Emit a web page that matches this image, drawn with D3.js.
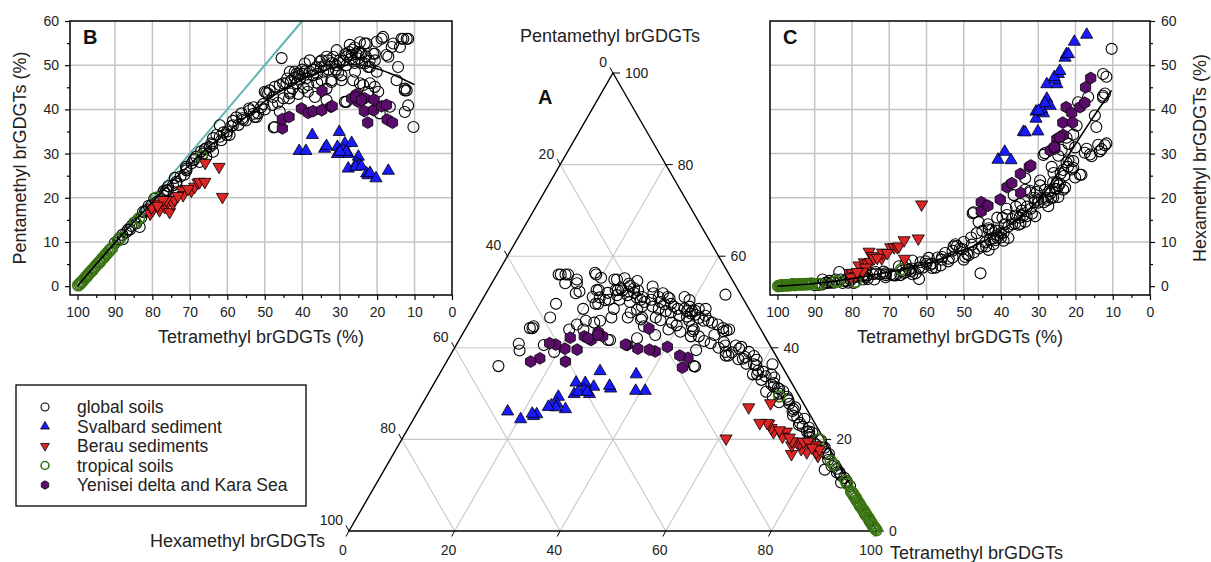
<!DOCTYPE html>
<html>
<head>
<meta charset="utf-8">
<script src="https://cdn.jsdelivr.net/npm/d3@7"></script>
<style>
body { margin: 0; background: #fff; }
svg { font-family: "Liberation Sans", Arial, sans-serif; }
</style>
</head>
<body>
<svg width="1211" height="562"></svg>
<script>
// values are [tetramethyl %, pentamethyl %]; hexamethyl = 100 - tetra - penta

var globalSoils = [
  [99,0.8],[97.5,2.2],[96,3.6],[94,5.5],[92.3,7.2],[90,9.8],[88.8,10.9],[87.9,10.6],[87,12.2],[86,12.8],
  [85.6,13.6],[84.8,14.4],[84.3,14.2],[83.4,13.4],[83,15.5],[82,16.8],[81.6,17.2],[80.3,18.3],[79,18.9],[78.1,19.5],
  [77,20.5],[76.7,21],[76.3,21.7],[75.9,21.7],[75.8,22.6],[74.5,22.8],[73.6,23.2],[73.6,23.6],[72.5,24.8],[71.5,25.2],
  [70.9,26.2],[70.9,26.6],[69.5,27.8],[68.7,28.8],[68.3,29.3],[67.4,28.1],[66.5,30],[65.6,29.3],[65.6,31.2],[64.7,31.5],
  [64.3,32.3],[63.8,30.4],[63.8,33.5],[62.9,34.2],[62,36.4],[61.6,33],[60.2,34.2],[59.4,34.2],[59,36.2],[58.5,36.4],
  [58.5,37.4],[57.6,38.2],[56.2,39.1],[55.8,37.6],[54.2,40.2],[54,39.8],[53,40.5],[52.7,38.3],[52.2,38.3],[51.8,39.1],
  [50.4,41.2],[50,44],[49.6,43.8],[49.1,43.6],[48.7,44.3],[47.8,42.8],[47.6,35.9],[47.3,45.1],[47.3,36],[46,45.5],
  [46,39.5],[45.5,51.6],[45.1,45.9],[44.2,45.9],[43.3,43.6],[43.3,48.5],[43.3,44],[42.6,44.7],[42,48.5],[41.5,45.9],
  [41.5,48.1],[40.6,46.8],[40,49],[41,48],[39.6,44.9],[39.3,48.6],[39.3,50.4],[38.4,45.5],[38,51.1],[37.1,47.7],
  [36.6,42.8],[36.2,49.6],[35.3,50.8],[34.8,46.6],[34.8,51.1],[34.4,48.5],[33.5,44.7],[33.5,51.9],[33.5,42.1],[33.1,51.1],
  [32.2,46.6],[32.2,46.2],[31.7,51.9],[30.8,53.4],[30.4,48.3],[30,51.1],[29.5,47.7],[29.5,46.6],[28.6,41.7],[28.2,50],
  [28.2,41.7],[27.3,54.6],[26.8,52.3],[26.4,46.6],[25.9,48.5],[25,53],[24.6,55.2],[24.6,52.6],[24.6,45.9],[24.2,52.6],
  [23.7,45.5],[23.3,50.4],[23.3,54.9],[22.8,54.9],[22.4,49.6],[22.4,44],[21.9,45.9],[21.9,49.6],[21,52.6],[20.6,51.1],
  [20.6,52.6],[20.6,45.1],[20.1,48.5],[20.1,55.3],[19.7,44],[19.3,39.1],[18.8,56],[18.4,56.4],[17.5,52.3],[17,51.9],
  [16.6,40.6],[16.1,54.1],[15.7,54.9],[14.8,46.6],[14.4,49.6],[13.9,54.1],[13.5,56],[13,56],[12.6,44.7],[12.6,44.3],
  [12.6,39.4],[12.1,56],[12.1,44.3],[11.7,40.9],[11.7,56],[10.3,36],
  [44,47],[43,46.5],[42,47.2],[41,47.5],[40,48],[39,47],[38,48.5],[37,49],[36,48],[35,49.5],
  [34,50],[33,49],[32,50.5],[31,50],[30,50.5],[29,51],[28,52],[27,51.5],[26,50.5],[25,51.5],
  [24,50.5],[23,52],[22,51],[27.5,53],[26.5,53.5],[25.5,52.5],[26,54],[28.5,52.5],[31,49],[36,46],
  [38.5,44],[41,43.5],[43.5,42.5],[45,42.5],[46.5,41.5],[48,41],[50,40],[51,40.5],[53,39],[55,37.5],
  [56,38],[57,36.5],[60,35],[61,34.8],[62,33.8],[64,32],[66,31],[67,30.5],[69,28.5],[71,27],
  [74,24.5],[77,21.5],[79.5,19.8],[81,18.2],[82.5,16.8],[86.5,12.8],[88,11.6],[89,10.6]
];

var svalbard = [
  [40.8,30.6],[39,30.6],[37.3,34.2],[34,31.1],[33.5,31.7],[30.1,34.9],[30.6,31.5],[28.6,32.3],[30.6,29.9],[29.1,30.8],
  [27.7,29.9],[26.8,32.4],[27.7,26.6],[25,29.3],[25.5,27.8],[24.6,27.4],[25.7,27],[24.2,27.1],[22.8,25.5],[22.4,25.1],
  [21.9,25.6],[20.3,24.4],[17,26.1],[28.2,30.4],[29.9,30.4]
];

var berau = [
  [80.6,16.4],[79.9,17.2],[79,18.7],[78.1,17.2],[76.7,17.9],[75.8,19.1],[75.4,16.8],[75,19.5],[74.5,18.7],[74.1,19.6],
  [76.3,19.5],[77.2,19.5],[72,21.7],[71.8,20.6],[69.6,21.6],[68.7,22.5],[67.8,23.4],[67.4,23.6],[66,23.6],[65.9,27.9],
  [62.2,27],[61.3,20.2],[80.2,17.8],[78.6,18.2],[73.2,20.4],[70.5,22]
];

var tropical = [
  [99.8,0.2],[99.4,0.5],[99,0.9],[98.6,1.2],[98.2,1.6],[97.8,2],[97.3,2.5],[96.9,2.9],[96.4,3.3],[96,3.7],
  [95.5,4.2],[95.1,4.6],[94.6,5],[94.2,5.4],[93.7,5.9],[93.3,6.3],[92.8,6.7],[92.4,7.2],[91.9,7.6],[91.5,8],
  [91.2,8.3],[90.8,8.6],[89.2,10.3],[88.6,10.9],[84.5,14.5],[83.6,15.3],[79,20],[66.8,29.4]
];

var yenisei = [
  [45.3,35.7],[45.3,37.8],[43.5,38.3],[40.2,40.2],[38.4,39.2],[37.1,39.6],[34.8,39.8],[34.7,44.2],[32.4,40.6],[32,40.7],
  [26.8,42.5],[25.5,43.4],[25,41.7],[23.3,42.5],[23.4,39.6],[22.5,37],[21,39.8],[20.8,42.2],[18.8,40.7],[17.5,41],
  [17.3,37.7],[15.9,37],[25.7,42.8],[24.2,42.1]
];

var seriesNames = ['global soils', 'Svalbard sediment', 'Berau sediments', 'tropical soils', 'Yenisei delta and Kara Sea'];

var fitBTetra = [100,95,90,85,80,75,70,65,60,55,50,45,40,35,30,27,24,20,15,12,10];
var fitBPenta = [0,5,9.8,14.5,19,23.5,27.5,31.5,34.8,38.3,41.8,44.5,46.8,48.6,49.8,50.1,50,49.2,47.6,46.4,45.6];
var fitCTetra = [100,90,80,70,60,50,45,40,35,30,26,21,16,13,10.3];
var fitCHexa = [0,0.6,1.7,3.2,5.1,8.2,10,12.7,15.6,19.5,24,30.8,37.3,41,44.3];

// 1:1 line tetra + penta = 100
var tealTetra = [100,40];
var tealPenta = [0,60];

var cartTicks = [100,90,80,70,60,50,40,30,20,10,0];
var cartMinor = [95,85,75,65,55,45,35,25,15,5];
var yTicks = [0,10,20,30,40,50,60];
var yMinor = [5,15,25,35,45,55];
var ternTicks = [0,20,40,60,80,100];

var series = [
  {name: seriesNames[0], data: globalSoils, shape: 'circle', fill: 'none', stroke: '#000', sw: 1.1},
  {name: seriesNames[1], data: svalbard, shape: 'up', fill: '#1a1aff', stroke: '#000', sw: 0.8},
  {name: seriesNames[2], data: berau, shape: 'down', fill: '#dc2626', stroke: '#000', sw: 0.8},
  {name: seriesNames[3], data: tropical, shape: 'circle', fill: 'none', stroke: '#3a7512', sw: 1.6},
  {name: seriesNames[4], data: yenisei, shape: 'hex', fill: '#5a0c6a', stroke: '#000', sw: 0.8}
];
var drawOrder = [0, 3, 2, 1, 4];

var svg = d3.select('svg');
var hexa = d => 100 - d[0] - d[1];

var hexPath = r => {
  var pts = d3.range(6).map(k => {
    var a = (k * 60 - 90) * Math.PI / 180;
    return [r * Math.cos(a), r * Math.sin(a)];
  });
  return d3.line()(pts) + 'Z';
};

var addMark = (g, s, x, y, k) => {
  if (s.shape == 'circle') {
    g.append('circle').attr('cx', x).attr('cy', y).attr('r', 5.5 * k)
      .attr('fill', s.fill).attr('stroke', s.stroke).attr('stroke-width', s.sw);
  } else if (s.shape == 'hex') {
    g.append('path').attr('d', hexPath(5.9 * k)).attr('transform', 'translate(' + x + ',' + y + ')')
      .attr('fill', s.fill).attr('stroke', s.stroke).attr('stroke-width', s.sw);
  } else {
    var rot = s.shape == 'down' ? ' rotate(180)' : '';
    g.append('path').attr('d', d3.symbol(d3.symbolTriangle, 64 * k * k)())
      .attr('transform', 'translate(' + x + ',' + y + ')' + rot)
      .attr('fill', s.fill).attr('stroke', s.stroke).attr('stroke-width', s.sw);
  }
};

var styleAxis = g => {
  g.attr('font-size', 14).attr('font-family', null);
  g.select('.domain').remove();
  g.selectAll('line').attr('stroke', '#000').attr('stroke-width', 1.2);
  g.selectAll('text').attr('fill', '#222');
};

// ---------- panels B and C ----------
var cartPanel = (opt) => {
  var x = d3.scaleLinear().domain([102, 0]).range([opt.left, opt.right]);
  var y = d3.scaleLinear().domain([-2, 60]).range([295, 21]);
  var g = svg.append('g');

  g.append('g').selectAll('line').data(cartTicks.slice(1, 10)).enter().append('line')
    .attr('x1', d => x(d)).attr('x2', d => x(d)).attr('y1', y(60)).attr('y2', y(-2))
    .attr('stroke', '#c4c4c4').attr('stroke-width', 1.5);
  g.append('g').selectAll('line').data([10, 20, 30, 40, 50]).enter().append('line')
    .attr('x1', x(102)).attr('x2', x(0)).attr('y1', d => y(d)).attr('y2', d => y(d))
    .attr('stroke', '#c4c4c4').attr('stroke-width', 1.5);

  if (opt.teal) {
    g.append('path').datum(d3.zip(tealTetra, tealPenta))
      .attr('d', d3.line().x(d => x(d[0])).y(d => y(d[1])))
      .attr('fill', 'none').attr('stroke', '#62b5b3').attr('stroke-width', 2);
  }

  var pts = g.append('g');
  drawOrder.forEach(i => {
    var s = series[i];
    s.data.forEach(d => addMark(pts, s, x(d[0]), y(opt.val(d)), 1));
  });

  g.append('path').datum(d3.zip(opt.fitX, opt.fitY))
    .attr('d', d3.line().x(d => x(d[0])).y(d => y(d[1])).curve(d3.curveCatmullRom))
    .attr('fill', 'none').attr('stroke', '#000').attr('stroke-width', 1.6);

  g.append('rect').attr('x', opt.left).attr('y', 21)
    .attr('width', opt.right - opt.left).attr('height', 274)
    .attr('fill', 'none').attr('stroke', '#000').attr('stroke-width', 1.5);

  var xa = g.append('g').attr('transform', 'translate(0,295)')
    .call(d3.axisBottom(x).tickValues(cartTicks).tickSize(5).tickPadding(7).tickFormat(d3.format('d')));
  styleAxis(xa);
  var xm = g.append('g').attr('transform', 'translate(0,295)')
    .call(d3.axisBottom(x).tickValues(cartMinor).tickSize(3).tickFormat(''));
  styleAxis(xm);

  var yAxis = opt.side == 'left' ? d3.axisLeft(y) : d3.axisRight(y);
  var ax = opt.side == 'left' ? opt.left : opt.right;
  var ya = g.append('g').attr('transform', 'translate(' + ax + ',0)')
    .call(yAxis.tickValues(yTicks).tickSize(5).tickPadding(6).tickFormat(d3.format('d')));
  styleAxis(ya);
  var yAxisM = opt.side == 'left' ? d3.axisLeft(y) : d3.axisRight(y);
  var ym = g.append('g').attr('transform', 'translate(' + ax + ',0)')
    .call(yAxisM.tickValues(yMinor).tickSize(3).tickFormat(''));
  styleAxis(ym);

  g.append('text').attr('x', (opt.left + opt.right) / 2).attr('y', 343)
    .attr('text-anchor', 'middle').attr('font-size', 18).attr('fill', '#222')
    .text('Tetramethyl brGDGTs (%)');
  g.append('text').attr('transform', 'translate(' + opt.ytx + ',158) rotate(-90)')
    .attr('text-anchor', 'middle').attr('font-size', 18).attr('fill', '#222')
    .text(opt.ytitle);
  g.append('text').attr('x', opt.left + 13).attr('y', 44)
    .attr('font-size', 20).attr('font-weight', 'bold').attr('fill', '#111')
    .text(opt.letter);
};

cartPanel({left: 70, right: 452, side: 'left', teal: true, val: d => d[1],
  fitX: fitBTetra, fitY: fitBPenta, ytx: 26, ytitle: 'Pentamethyl brGDGTs (%)', letter: 'B'});
cartPanel({left: 770, right: 1150, side: 'right', teal: false, val: hexa,
  fitX: fitCTetra, fitY: fitCHexa, ytx: 1206, ytitle: 'Hexamethyl brGDGTs (%)', letter: 'C'});

// ---------- panel A: ternary ----------
var xT = d3.scaleLinear().domain([0, 100]).range([349, 877]);
var yT = d3.scaleLinear().domain([0, 100]).range([531, 73]);
var pos = (t, p) => [xT(t + p / 2), yT(p)];

var tg = svg.append('g');
var grid = tg.append('g').attr('stroke', '#c8c8c8').attr('stroke-width', 1.1);
[20, 40, 60, 80].forEach(v => {
  [[pos(0, v), pos(100 - v, v)], [pos(v, 0), pos(v, 100 - v)], [pos(0, 100 - v), pos(100 - v, 0)]]
    .forEach(seg => grid.append('line')
      .attr('x1', seg[0][0]).attr('y1', seg[0][1]).attr('x2', seg[1][0]).attr('y2', seg[1][1]));
});

tg.append('path').datum([pos(0, 100), pos(100, 0), pos(0, 0)])
  .attr('d', d => d3.line()(d) + 'Z')
  .attr('fill', 'none').attr('stroke', '#000').attr('stroke-width', 1.4);

var tl = tg.append('g').attr('font-size', 14).attr('fill', '#222');
ternTicks.forEach(v => {
  // pentamethyl on right edge
  var a = pos(100 - v, v);
  tl.append('line').attr('x1', a[0]).attr('y1', a[1]).attr('x2', a[0] + 7).attr('y2', a[1]).attr('stroke', '#000');
  tl.append('text').attr('x', a[0] + 12).attr('y', a[1] + 5).text(v);
  // hexamethyl on left edge
  var b = pos(0, 100 - v);
  tl.append('line').attr('x1', b[0]).attr('y1', b[1]).attr('x2', b[0] - 3).attr('y2', b[1] - 5.5).attr('stroke', '#000');
  tl.append('text').attr('x', b[0] - 6).attr('y', b[1] - 6).attr('text-anchor', 'end').text(v);
  // tetramethyl on bottom edge
  var c = pos(v, 0);
  tl.append('line').attr('x1', c[0]).attr('y1', c[1]).attr('x2', c[0] - 3).attr('y2', c[1] + 5.5).attr('stroke', '#000');
  tl.append('text').attr('x', c[0] - 6).attr('y', c[1] + 24).attr('text-anchor', 'middle').text(v);
});

tg.append('text').attr('x', 610).attr('y', 42).attr('text-anchor', 'middle')
  .attr('font-size', 18).attr('fill', '#222').text('Pentamethyl brGDGTs');
tg.append('text').attr('x', 325).attr('y', 547).attr('text-anchor', 'end')
  .attr('font-size', 18).attr('fill', '#222').text('Hexamethyl brGDGTs');
tg.append('text').attr('x', 890).attr('y', 559)
  .attr('font-size', 18).attr('fill', '#222').text('Tetramethyl brGDGTs');
tg.append('text').attr('x', 538).attr('y', 104)
  .attr('font-size', 20).attr('font-weight', 'bold').attr('fill', '#111').text('A');

var tp = tg.append('g');
drawOrder.forEach(i => {
  var s = series[i];
  s.data.forEach(d => {
    var q = pos(d[0], d[1]);
    addMark(tp, s, q[0], q[1], 1);
  });
});

// ---------- legend ----------
var lg = svg.append('g');
lg.append('rect').attr('x', 16).attr('y', 385).attr('width', 290).attr('height', 121)
  .attr('fill', '#fff').attr('stroke', '#000').attr('stroke-width', 1.3);
series.forEach((s, i) => {
  var yy = 407 + i * 19.5;
  addMark(lg, s, 45, yy, 0.72);
  lg.append('text').attr('x', 77).attr('y', yy).attr('dy', '0.35em')
    .attr('font-size', 17.5).attr('fill', '#222').text(s.name);
});
</script>
</body>
</html>
